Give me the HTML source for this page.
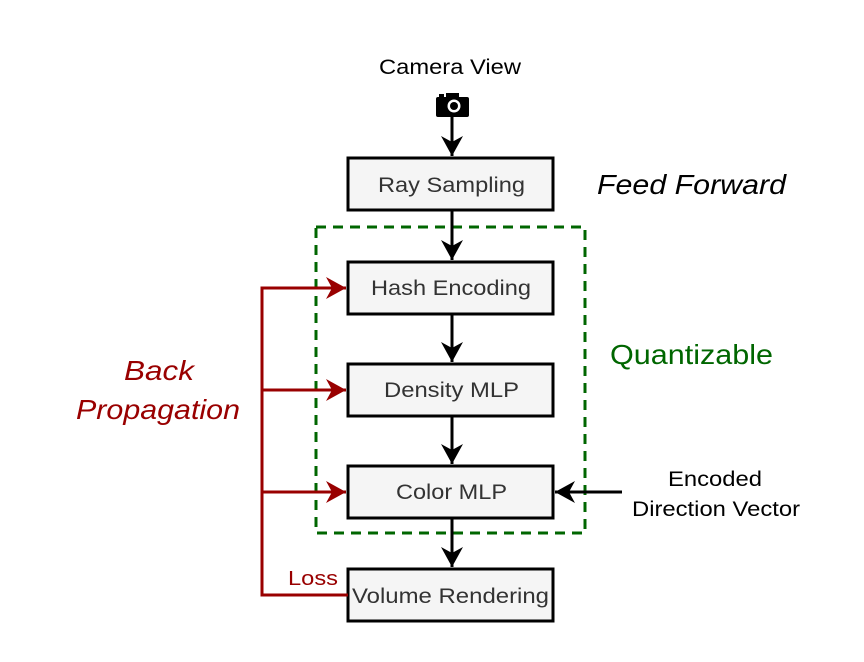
<html><body style="margin:0;background:#fff">
<svg width="864" height="662" viewBox="0 0 864 662" xmlns="http://www.w3.org/2000/svg" font-family="Liberation Sans, sans-serif">
<defs>
<marker id="ar" markerWidth="22" markerHeight="22" refX="20" refY="11" orient="auto" markerUnits="userSpaceOnUse"><path d="M0,0 L20,11 L0,22 L6,11z" fill="#990000"/></marker>
<marker id="ak" markerWidth="22" markerHeight="22" refX="20" refY="11" orient="auto" markerUnits="userSpaceOnUse"><path d="M0,0 L20,11 L0,22 L6,11z" fill="#000"/></marker>
</defs>
<rect x="316" y="227" width="269" height="306" fill="none" stroke="#006600" stroke-width="3" stroke-dasharray="10,7"/>
<g stroke="#000" stroke-width="3" fill="#f5f5f5">
<rect x="348" y="158" width="205" height="52"/>
<rect x="348" y="262" width="205" height="52"/>
<rect x="348" y="364" width="205" height="52"/>
<rect x="348" y="466" width="205" height="52"/>
<rect x="348" y="569" width="205" height="52"/>
</g>
<g font-size="21" fill="#333" lengthAdjust="spacingAndGlyphs">
<text x="378" y="192" textLength="147" lengthAdjust="spacingAndGlyphs">Ray Sampling</text>
<text x="371" y="295" textLength="160" lengthAdjust="spacingAndGlyphs">Hash Encoding</text>
<text x="384" y="397" textLength="135" lengthAdjust="spacingAndGlyphs">Density MLP</text>
<text x="396" y="499" textLength="111" lengthAdjust="spacingAndGlyphs">Color MLP</text>
<text x="352" y="603" textLength="197" lengthAdjust="spacingAndGlyphs">Volume Rendering</text>
</g>
<g stroke="#000" stroke-width="3" fill="none">
<line x1="452" y1="115" x2="452" y2="156" marker-end="url(#ak)"/>
<line x1="452" y1="210" x2="452" y2="260" marker-end="url(#ak)"/>
<line x1="452" y1="314" x2="452" y2="362" marker-end="url(#ak)"/>
<line x1="452" y1="416" x2="452" y2="464" marker-end="url(#ak)"/>
<line x1="452" y1="518" x2="452" y2="567" marker-end="url(#ak)"/>
<line x1="622" y1="492" x2="555" y2="492" marker-end="url(#ak)"/>
</g>
<g fill="#000">
<rect x="436" y="97" width="33" height="20" rx="2"/>
<rect x="446" y="93" width="13" height="6"/>
<rect x="439" y="94" width="5" height="4"/>
<circle cx="454" cy="106" r="6.5" fill="#fff"/>
<circle cx="454" cy="106" r="4" fill="#000"/>
</g>
<g stroke="#990000" stroke-width="3" fill="none">
<polyline points="348,595 262,595 262,288 346,288" marker-end="url(#ar)"/>
<line x1="262" y1="390" x2="346" y2="390" marker-end="url(#ar)"/>
<line x1="262" y1="492" x2="346" y2="492" marker-end="url(#ar)"/>
</g>
<text x="288" y="585" font-size="20" fill="#990000" textLength="50" lengthAdjust="spacingAndGlyphs">Loss</text>
<text x="124" y="380" font-size="28" font-style="italic" fill="#990000" textLength="70" lengthAdjust="spacingAndGlyphs">Back</text>
<text x="76" y="419" font-size="28" font-style="italic" fill="#990000" textLength="164" lengthAdjust="spacingAndGlyphs">Propagation</text>
<text x="379" y="74" font-size="21" textLength="142" lengthAdjust="spacingAndGlyphs">Camera View</text>
<text x="597" y="194" font-size="28" font-style="italic" textLength="189" lengthAdjust="spacingAndGlyphs">Feed Forward</text>
<text x="610" y="364" font-size="28" fill="#006600" textLength="163" lengthAdjust="spacingAndGlyphs">Quantizable</text>
<text x="668" y="486" font-size="21" textLength="94" lengthAdjust="spacingAndGlyphs">Encoded</text>
<text x="632" y="516" font-size="21" textLength="168" lengthAdjust="spacingAndGlyphs">Direction Vector</text>
</svg>
</body></html>
